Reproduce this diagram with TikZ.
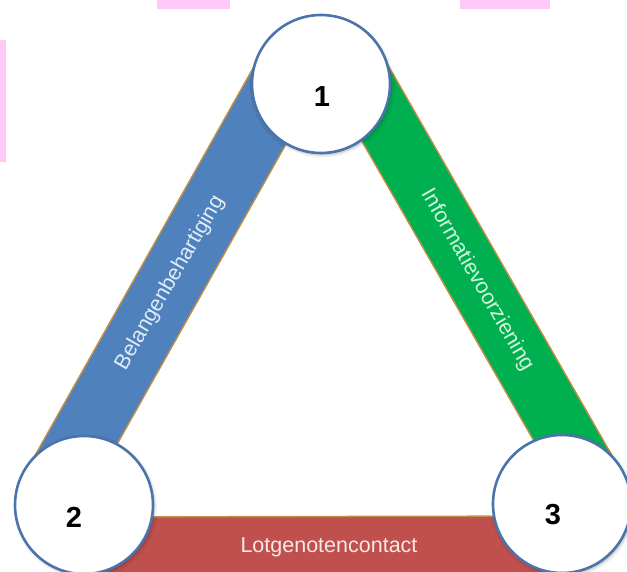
\documentclass[tikz,border=0pt]{standalone}
\usepackage{fontspec}
\setmainfont{Liberation Sans}
\usetikzlibrary{calc,shadows.blur}

\definecolor{bandblue}{RGB}{79,129,189}
\definecolor{bandgreen}{RGB}{0,176,80}
\definecolor{bandred}{RGB}{192,80,77}
\definecolor{bandedge}{RGB}{196,142,72}
\definecolor{ringline}{RGB}{74,116,170}
\definecolor{decopink}{RGB}{255,200,246}
\definecolor{txtblue}{RGB}{226,236,248}
\definecolor{txtgreen}{RGB}{210,245,220}
\definecolor{txtred}{RGB}{248,232,230}

\pgfdeclarelayer{background}
\pgfsetlayers{background,main}

\tikzset{
  ring/.style={circle, draw=ringline, line width=2.6pt, fill=white,
    minimum size=138pt, inner sep=0pt,
    blur shadow={shadow xshift=1.5pt, shadow yshift=-2pt,
      shadow opacity=30, shadow blur radius=3pt}},
  num/.style={font=\fontsize{29}{29}\selectfont\bfseries, text=black, inner sep=0pt},
  band/.style={draw=bandedge, line width=1.4pt, line join=miter},
  bandtext/.style={font=\fontsize{21.5}{21.5}\selectfont, inner sep=0pt},
  deco/.style={fill=decopink, draw=none}
}

% A band from circle #1 to circle #2, lying on the left-hand side of
% the direction #1 -> #2, between offsets #3 and #4 from the centre line.
\newcommand{\bandpath}[4]{%
  ($(#1.center)!#3!90:(#2.center)$) -- ($(#1.center)!#4!90:(#2.center)$) --
  ($(#2.center)!#4!-90:(#1.center)$) -- ($(#2.center)!#3!-90:(#1.center)$) -- cycle}

\begin{document}
\begin{tikzpicture}[x=1pt,y=-1pt]
\useasboundingbox (0,0) rectangle (627,572);

% the three circles
\node[ring] (c1) at (321,84) {};
\node[ring] (c2) at (84,505) {};
\node[ring] (c3) at (562,504) {};

\node[num] (n1) at ($(c1)+(1,13)$) {1};
\node[num] (n2) at ($(c2)+(-10,12)$) {2};
\node[num] (n3) at ($(c3)+(-9,11)$) {3};

\begin{pgfonlayer}{background}
  % pink slide decoration along the edges
  \fill[deco] (157,0) rectangle (230,9);
  \fill[deco] (460,0) rectangle (550,9);
  \fill[deco] (0,40) rectangle (6,162);

  % the three bands joining the circles
  \draw[band, fill=bandblue]  \bandpath{c2}{c1}{1pt}{67pt};
  \draw[band, fill=bandgreen] \bandpath{c1}{c3}{7pt}{67.5pt};
  \draw[band, fill=bandred]   \bandpath{c3}{c2}{12pt}{79pt};

  \node[bandtext, text=txtblue, rotate=60]   (t12) at (170,283) {Belangenbehartiging};
  \node[bandtext, text=txtgreen, rotate=-60] (t13) at (477,280) {Informatievoorziening};
  \node[bandtext, text=txtred]               (t23) at (329,547) {Lotgenotencontact};
\end{pgfonlayer}
\end{tikzpicture}
\end{document}
